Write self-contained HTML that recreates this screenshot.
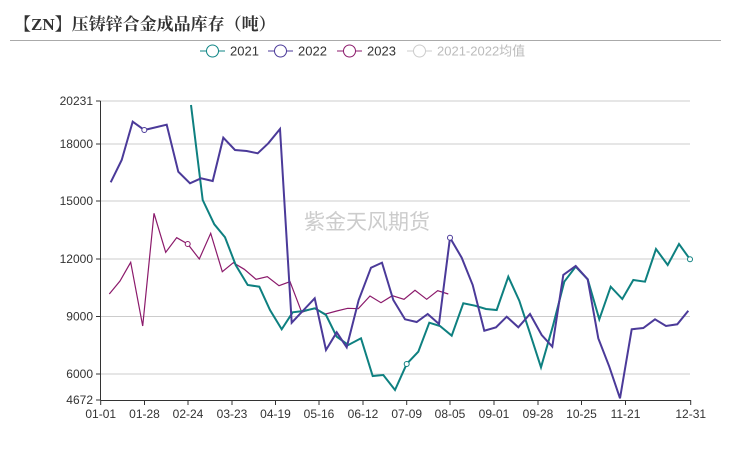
<!DOCTYPE html>
<html><head><meta charset="utf-8"><style>
body{margin:0;background:#fff;width:729px;height:460px;overflow:hidden}
svg{display:block}
</style></head><body>
<svg width="729" height="460" xmlns="http://www.w3.org/2000/svg" font-family="'Liberation Sans','Noto Sans CJK SC',sans-serif">
<text x="14" y="30" font-size="17" font-weight="bold" fill="#333" font-family="'Liberation Serif','Noto Serif CJK SC',serif">【ZN】压铸锌合金成品库存（吨）</text>
<line x1="10" y1="40.5" x2="721" y2="40.5" stroke="#aaa" stroke-width="1"/>
<g font-size="13">
<line x1="200" y1="51" x2="225" y2="51" stroke="#0e8585"/><circle cx="212.5" cy="51" r="6" fill="#fff" stroke="#0e8585"/><text x="230" y="55.5" fill="#333">2021</text>
<line x1="268" y1="51" x2="293" y2="51" stroke="#4b3a99"/><circle cx="280.5" cy="51" r="6" fill="#fff" stroke="#4b3a99"/><text x="298" y="55.5" fill="#333">2022</text>
<line x1="337" y1="51" x2="362" y2="51" stroke="#8b1a6b"/><circle cx="349.5" cy="51" r="6" fill="#fff" stroke="#8b1a6b"/><text x="367" y="55.5" fill="#333">2023</text>
<line x1="407" y1="51" x2="432" y2="51" stroke="#ccc"/><circle cx="419.5" cy="51" r="6" fill="#fff" stroke="#ccc"/><text x="437" y="55.5" fill="#bbb">2021-2022均值</text>
</g>
<g stroke="#ccc" stroke-width="1">
<line x1="100.5" y1="101" x2="690" y2="101"/>
<line x1="100.5" y1="144" x2="690" y2="144"/>
<line x1="100.5" y1="201" x2="690" y2="201"/>
<line x1="100.5" y1="259" x2="690" y2="259"/>
<line x1="100.5" y1="316.5" x2="690" y2="316.5"/>
<line x1="100.5" y1="374" x2="690" y2="374"/>
</g>
<g stroke="#333" stroke-width="1">
<line x1="100.5" y1="101" x2="100.5" y2="400"/>
<line x1="100.5" y1="400.5" x2="691" y2="400.5"/>
<line x1="96" y1="101" x2="100.5" y2="101"/><line x1="96" y1="144" x2="100.5" y2="144"/><line x1="96" y1="201" x2="100.5" y2="201"/><line x1="96" y1="259" x2="100.5" y2="259"/><line x1="96" y1="316.5" x2="100.5" y2="316.5"/><line x1="96" y1="374" x2="100.5" y2="374"/><line x1="96" y1="400" x2="100.5" y2="400"/>
<line x1="100.7" y1="400" x2="100.7" y2="405"/><line x1="144.5" y1="400" x2="144.5" y2="405"/><line x1="188" y1="400" x2="188" y2="405"/><line x1="232" y1="400" x2="232" y2="405"/><line x1="275.5" y1="400" x2="275.5" y2="405"/><line x1="319" y1="400" x2="319" y2="405"/><line x1="363" y1="400" x2="363" y2="405"/><line x1="406.7" y1="400" x2="406.7" y2="405"/><line x1="450" y1="400" x2="450" y2="405"/><line x1="494" y1="400" x2="494" y2="405"/><line x1="538" y1="400" x2="538" y2="405"/><line x1="581.5" y1="400" x2="581.5" y2="405"/><line x1="625.5" y1="400" x2="625.5" y2="405"/><line x1="690.7" y1="400" x2="690.7" y2="405"/>
</g>
<g font-size="12" fill="#333" text-anchor="end">
<text x="93" y="105">20231</text><text x="93" y="148">18000</text><text x="93" y="205">15000</text><text x="93" y="263">12000</text><text x="93" y="320.5">9000</text><text x="93" y="378">6000</text><text x="93" y="404">4672</text>
</g>
<g font-size="12" fill="#333" text-anchor="middle">
<text x="100.7" y="418">01-01</text><text x="144.5" y="418">01-28</text><text x="188" y="418">02-24</text><text x="232" y="418">03-23</text><text x="275.5" y="418">04-19</text><text x="319" y="418">05-16</text><text x="363" y="418">06-12</text><text x="406.7" y="418">07-09</text><text x="450" y="418">08-05</text><text x="494" y="418">09-01</text><text x="538" y="418">09-28</text><text x="581.5" y="418">10-25</text><text x="625.5" y="418">11-21</text><text x="690.7" y="418">12-31</text>
</g>
<text x="367" y="229" font-size="21" fill="#ccc" text-anchor="middle">紫金天风期货</text>
<polyline fill="none" stroke="#8b1a6b" stroke-width="1.2" points="109.3,294 120,281 130.7,262.3 142.7,326 154,213.3 165.7,252.3 176.7,237.7 187.7,244 199.3,259 210.7,233.3 222.3,271.7 233.3,262.7 244.3,269.3 256,279.3 267.3,276.7 279,285.7 290,281.7 301.7,312.3 314,308.3 325.7,314 336.7,311 347.7,308.3 358.3,308.7 370,296 381,302.7 392.3,295.7 404,299.3 415,290.3 426.7,299.3 437.7,290.7 448.3,294"/>
<polyline fill="none" stroke="#0e8080" stroke-width="2" points="191,105 202.7,200 214.3,224.3 225,237.3 235.7,265 247.7,285 259.3,286.7 270,310 281.7,329.3 292.7,312.3 303.5,311 315,308.3 326,315 336.7,336.7 348.3,345 361,338.3 372.7,376 383.3,375 395,390 406.7,364 418.3,351.7 429.3,322.7 440,326 451.7,335.7 463.3,303.3 475,305.7 486,309 496.7,310 508.3,276.7 519.3,300.7 530,333.3 541,367.3 552.7,326.7 564.3,281.7 575.7,266.7 587.7,279.3 599.3,319.3 610.7,286.7 622.3,299 633.3,280 645,281.7 656,249 667.7,265 679,244 690,259.3"/>
<polyline fill="none" stroke="#4b3a99" stroke-width="2" points="110.7,182.3 121.7,160 132.7,121.7 144.3,130 166.7,124.7 178.3,171.7 190,183.3 201,178.3 212.7,181 223.3,137.7 235,150 246.7,151 257.7,153.3 268.3,143.3 280,129 291.7,322.7 302.7,311 314.7,298.3 326,350 336.7,332.3 346.7,347.3 358.7,300 371,267.7 382,262.7 393.3,300 405,319.3 416.7,322 427.7,314 439,324 450,237.7 461.7,257.7 472.7,285 484.3,330.7 496,327.3 506.7,316.7 518.3,327.3 530,314 541.7,335 552.3,346.7 563.3,275 575.7,266 587.7,279.3 598.3,338.3 609.3,366.7 620,398.3 631.7,329.3 643.3,328 655,319.3 666,326 677.3,324.3 688.3,310.7"/>
<circle cx="144.3" cy="130" r="2.5" fill="#fff" stroke="#4b3a99"/>
<circle cx="187.7" cy="244" r="2.5" fill="#fff" stroke="#8b1a6b"/>
<circle cx="406.7" cy="364" r="2.5" fill="#fff" stroke="#0e8080"/>
<circle cx="450" cy="237.7" r="2.5" fill="#fff" stroke="#4b3a99"/>
<circle cx="690" cy="259.3" r="2.5" fill="#fff" stroke="#0e8080"/>
</svg>
</body></html>
